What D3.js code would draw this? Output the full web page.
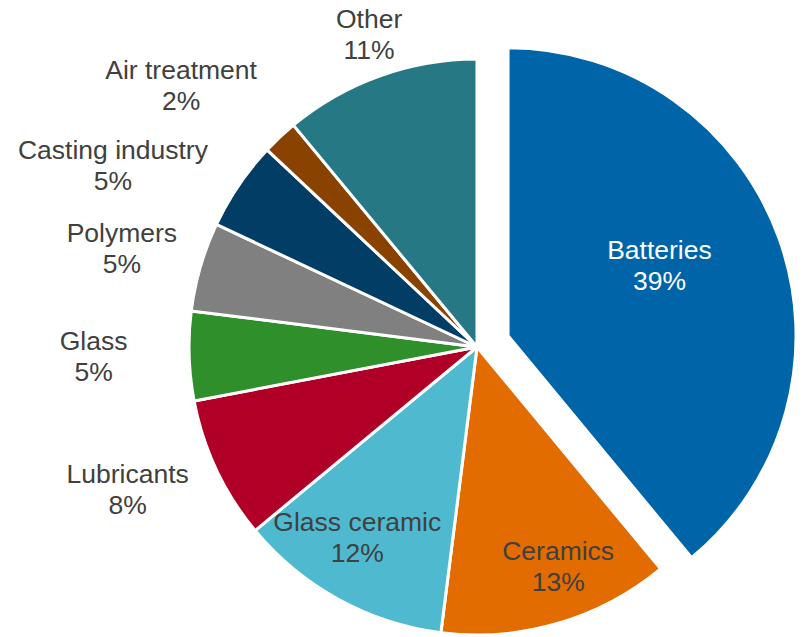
<!DOCTYPE html>
<html>
<head>
<meta charset="utf-8">
<script src="https://cdn.jsdelivr.net/npm/d3@7"></script>
<style>
  html, body { margin: 0; padding: 0; background: #ffffff; }
  svg { display: block; }
  text { font-family: "Liberation Sans", Arial, sans-serif; }
</style>
</head>
<body>
<svg id="chart" width="802" height="637"></svg>
<script>
// Applications share, percent
const categories = ["Batteries", "Ceramics", "Glass ceramic", "Lubricants", "Glass",
                    "Polymers", "Casting industry", "Air treatment", "Other"];
const shares = [39, 13, 12, 8, 5, 5, 5, 2, 11];
const valueLabels = ["39%", "13%", "12%", "8%", "5%", "5%", "5%", "2%", "11%"];

// Styling and layout
const colors = ["#0064a8", "#e36c00", "#4fbacf", "#b10027", "#2f8f2b",
                "#808080", "#023d66", "#8a4200", "#267885"];
const textColors = ["#ffffff", "#404040", "#404040", "#404040", "#404040",
                    "#404040", "#404040", "#404040", "#404040"];
const explode = [33, 0, 0, 0, 0, 0, 0, 0, 0];
// label placement: distance in radii and angular nudge in degrees
const labelDist  = [0.571, 0.832, 0.80, 1.125, 1.215, 1.09, 1.115, 1.17, 1.128];
const labelShift = [-3.2, -3.6, 2.5, -2.0, -0.8, 1.0, -1.0, 2.5, 0.4];
const labelInside = [true, true, true, false, false, false, false, false, false];

const cx = 477, cy = 347, radius = 288;
const fontSize = 26.5, lineGap = 31, textDrop = 3;

const svg = d3.select("#chart");
const g = svg.append("g").attr("transform", `translate(${cx},${cy})`);

const data = categories.map((c, i) => ({ name: c, value: shares[i], i }));
const pie = d3.pie().sort(null).value(d => d.value).startAngle(0).endAngle(2 * Math.PI);
const arcs = pie(data);
const arc = d3.arc().innerRadius(0).outerRadius(radius);

const polar = (ang, r) => [Math.sin(ang) * r, -Math.cos(ang) * r];

// slices
g.selectAll("path.slice")
  .data(arcs)
  .join("path")
  .attr("class", "slice")
  .attr("d", arc)
  .attr("fill", d => colors[d.data.i])
  .attr("stroke", "#ffffff")
  .attr("stroke-width", 3)
  .attr("stroke-linejoin", "miter")
  .attr("transform", d => {
    const mid = (d.startAngle + d.endAngle) / 2;
    const [ox, oy] = polar(mid, explode[d.data.i]);
    return `translate(${ox},${oy})`;
  });

// labels
const labels = g.selectAll("g.label")
  .data(arcs)
  .join("g")
  .attr("class", "label");

labels.each(function (d) {
  const i = d.data.i;
  const mid = (d.startAngle + d.endAngle) / 2;
  const [ox, oy] = polar(mid, explode[i]);
  const ang = mid + labelShift[i] * Math.PI / 180;
  const [lx, ly] = polar(ang, labelDist[i] * radius);
  const sel = d3.select(this);
  const lines = [d.data.name, valueLabels[i]];
  const txt = sel.append("text")
    .attr("text-anchor", "middle")
    .attr("font-size", fontSize)
    .attr("fill", textColors[i]);
  lines.forEach((s, k) => {
    txt.append("tspan")
      .attr("x", 0)
      .attr("y", k === 0 ? -lineGap / 2 : lineGap / 2)
      .text(s);
  });
  // outside labels on the left are right-aligned to their anchor point
  let shiftX = 0;
  const deg = (ang * 180 / Math.PI) % 360;
  if (!labelInside[i] && deg > 200 && deg < 330) {
    const w = txt.node().getBBox().width;
    shiftX = -w / 2;
  }
  sel.attr("transform", `translate(${ox + lx + shiftX},${oy + ly + textDrop})`);
});
</script>
</body>
</html>
